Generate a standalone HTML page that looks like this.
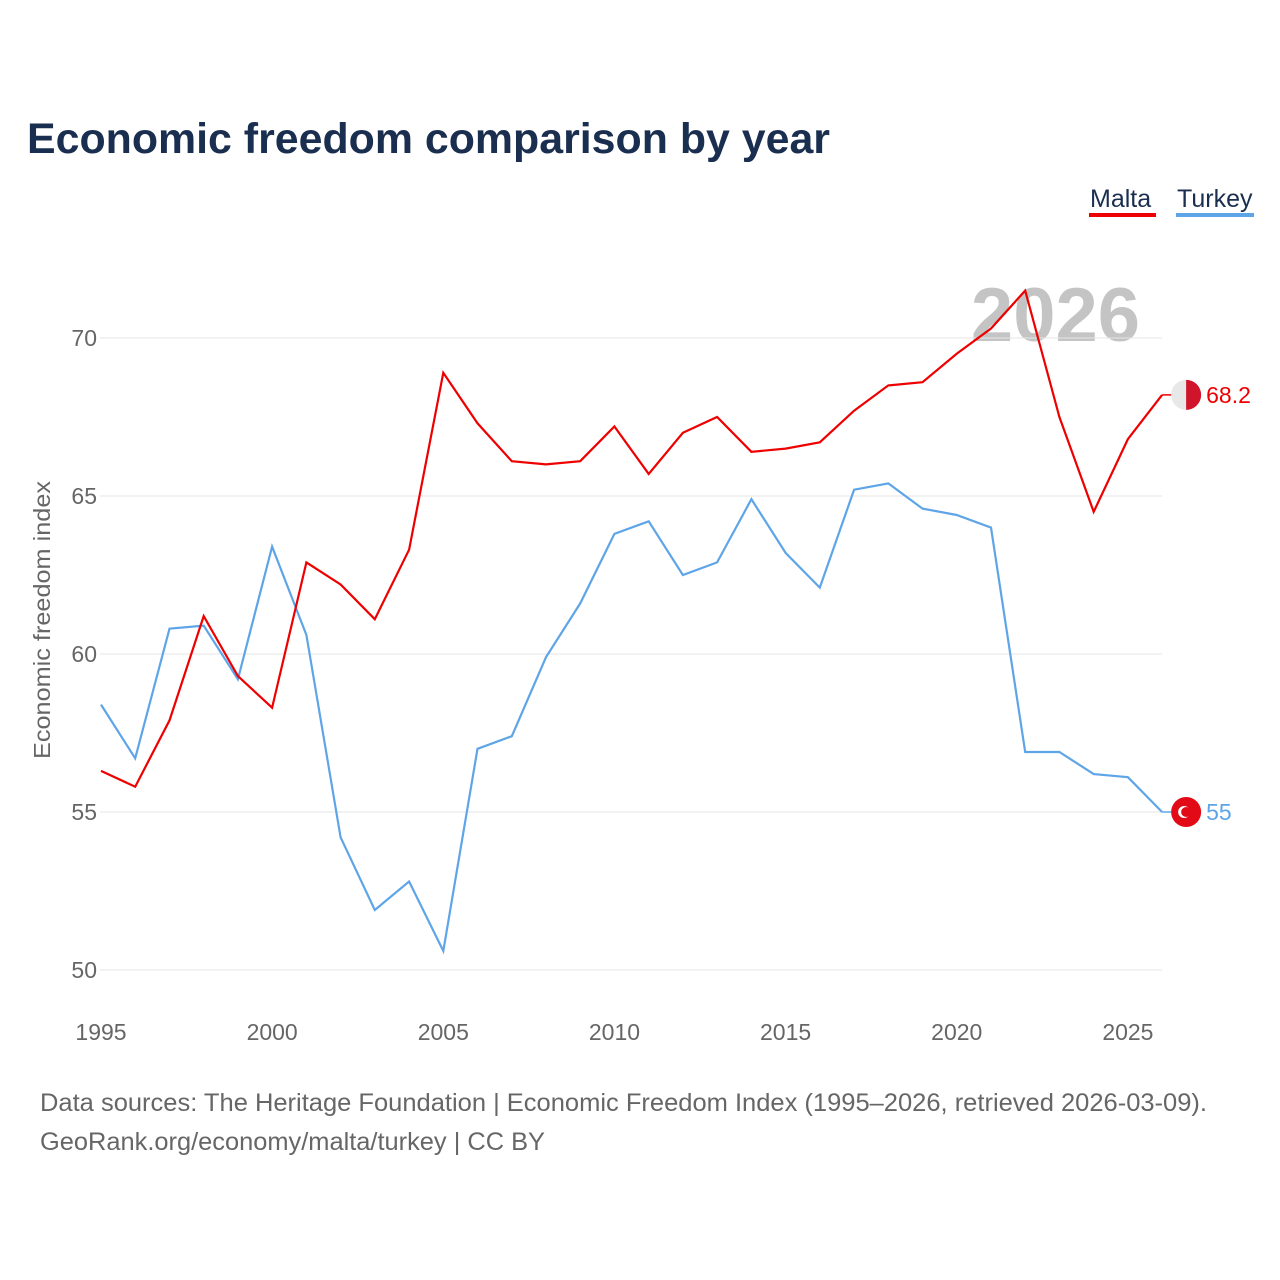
<!DOCTYPE html>
<html><head><meta charset="utf-8">
<style>
body{margin:0;background:#fff;font-family:"Liberation Sans",sans-serif;}
#wrap{position:relative;width:1280px;height:1280px;overflow:hidden;}
</style></head>
<body>
<div id="wrap">
<svg id="chart" width="1280" height="1280"></svg>
</div>
<script>
const years=[1995,1996,1997,1998,1999,2000,2001,2002,2003,2004,2005,2006,2007,2008,2009,2010,2011,2012,2013,2014,2015,2016,2017,2018,2019,2020,2021,2022,2023,2024,2025,2026];
const malta=[56.3,55.8,57.9,61.2,59.3,58.3,62.9,62.2,61.1,63.3,68.9,67.3,66.1,66.0,66.1,67.2,65.7,67.0,67.5,66.4,66.5,66.7,67.7,68.5,68.6,69.5,70.3,71.5,67.5,64.5,66.8,68.2];
const turkey=[58.4,56.7,60.8,60.9,59.2,63.4,60.6,54.2,51.9,52.8,50.6,57.0,57.4,59.9,61.6,63.8,64.2,62.5,62.9,64.9,63.2,62.1,65.2,65.4,64.6,64.4,64.0,56.9,56.9,56.2,56.1,55.0];
const yTicks=[50,55,60,65,70];
const xTicks=[1995,2000,2005,2010,2015,2020,2025];

const NS="http://www.w3.org/2000/svg";
const svg=document.getElementById('chart');
const x=v=>101+(v-1995)*34.23;
const y=v=>338+(70-v)*31.6;
function el(tag,attrs,parent){const e=document.createElementNS(NS,tag);for(const k in attrs)e.setAttribute(k,attrs[k]);(parent||svg).appendChild(e);return e;}
function txt(s,attrs){const t=el('text',attrs);t.textContent=s;return t;}

let t;
t=txt('Economic freedom comparison by year',{x:27,y:153,'font-size':43,'font-weight':'bold',fill:'#1a2e4f',textLength:803,lengthAdjust:'spacingAndGlyphs'});



t=txt('Malta',{x:1090,y:207,'font-size':25,fill:'#1a2e4f'});


let r=el('rect',{x:1089,y:213,width:67,height:4,fill:'#ee0000'});


t=txt('Turkey',{x:1177,y:207,'font-size':25,fill:'#1a2e4f'});


r=el('rect',{x:1176,y:213,width:78,height:4,fill:'#5ea5e8'});



t=txt('2026',{x:1140,y:341,'font-size':76,'font-weight':'bold',fill:'#c4c4c4','text-anchor':'end'});



yTicks.forEach(v=>{
  const g=el('line',{x1:100,x2:1162,y1:y(v),y2:y(v),stroke:'#e6e6e6','stroke-width':1});
  
  
  const l=txt(String(v),{x:97,y:y(v)+8,'font-size':23,fill:'#666','text-anchor':'end'});
  
  
});
xTicks.forEach(v=>{
  const l=txt(String(v),{x:x(v),y:1040,'font-size':23,fill:'#666','text-anchor':'middle'});
  
  
});
t=txt('Economic freedom index',{x:0,y:0,'font-size':23,fill:'#666','text-anchor':'middle',textLength:278,lengthAdjust:'spacingAndGlyphs',transform:'translate(50,620) rotate(-90)'});



function line(vals,color,name){
  const d=vals.map((v,i)=>(i?'L':'M')+x(years[i]).toFixed(1)+','+y(v).toFixed(1)).join(' ');
  const p=el('path',{d:d,fill:'none',stroke:color,'stroke-width':2.2});
  
  
}
line(turkey,'#5ea5e8','turkey-line');
line(malta,'#ee0000','malta-line');

const lastM=malta[malta.length-1], lastT=turkey[turkey.length-1], lastX=x(years[years.length-1]);
el('line',{x1:lastX,x2:lastX+10,y1:y(lastM),y2:y(lastM),stroke:'#ee0000','stroke-width':1.5});
el('line',{x1:lastX,x2:lastX+10,y1:y(lastT),y2:y(lastT),stroke:'#5ea5e8','stroke-width':1.5});
let c=el('circle',{cx:lastX+24,cy:y(lastM),r:15,fill:'#e8e8e8'});


el('path',{d:`M${lastX+24},${y(lastM)-15} A15,15 0 0 1 ${lastX+24},${y(lastM)+15} Z`,fill:'#cf142b'});
c=el('circle',{cx:lastX+24,cy:y(lastT),r:15,fill:'#e30a17'});


el('circle',{cx:lastX+22,cy:y(lastT),r:6,fill:'#fff'});
el('circle',{cx:lastX+24,cy:y(lastT),r:5,fill:'#e30a17'});
t=txt(String(lastM),{x:lastX+44,y:y(lastM)+8,'font-size':23,fill:'#ee0000'});


t=txt(String(lastT),{x:lastX+44,y:y(lastT)+8,'font-size':23,fill:'#5ea5e8'});



t=txt('Data sources: The Heritage Foundation | Economic Freedom Index (1995–2026, retrieved 2026-03-09).',{x:40,y:1111,'font-size':25,fill:'#666',textLength:1167,lengthAdjust:'spacingAndGlyphs'});


t=txt('GeoRank.org/economy/malta/turkey | CC BY',{x:40,y:1150,'font-size':25,fill:'#666',textLength:505,lengthAdjust:'spacingAndGlyphs'});


</script>
</body></html>
